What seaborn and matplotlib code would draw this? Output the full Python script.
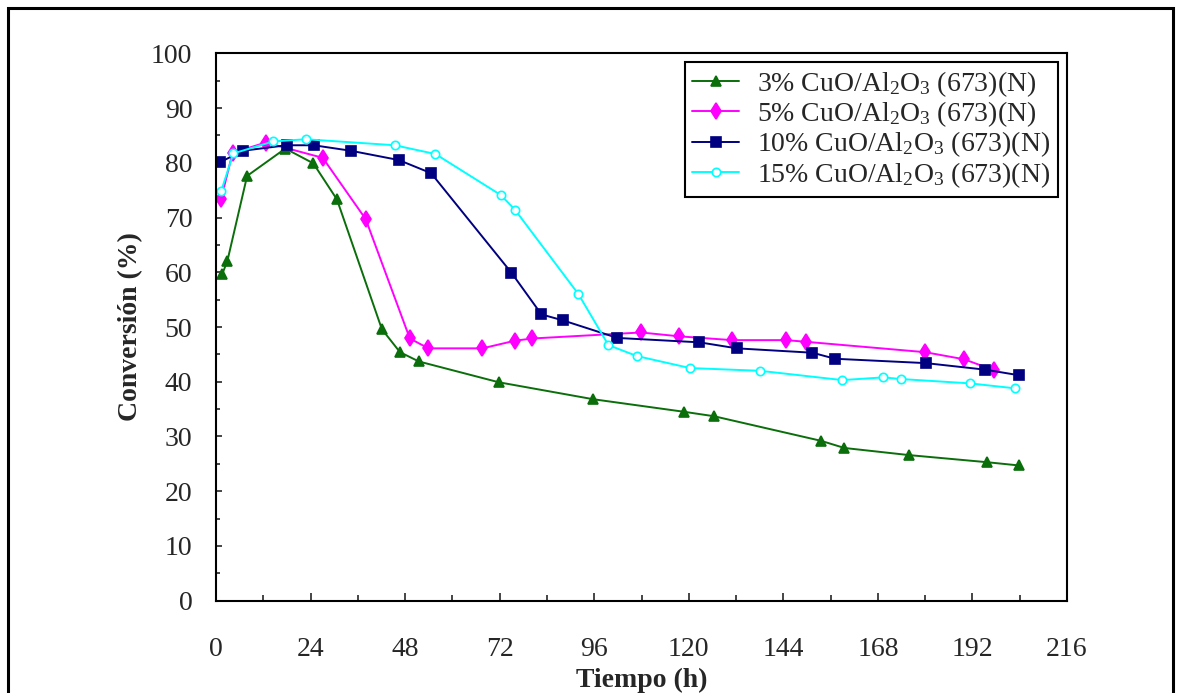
import matplotlib
matplotlib.use("Agg")
import matplotlib.pyplot as plt
from matplotlib.patches import Rectangle
from matplotlib.ticker import MultipleLocator
import seaborn as sns
import pandas as pd

# ---- data ----
t_3 = [1.6, 2.9, 7.9, 17.6, 24.7, 30.7, 42.1, 46.7, 51.5, 71.8, 95.8, 118.9, 126.4, 153.6, 159.5, 175.9, 195.7, 203.9]
c_3 = [59.7, 62.1, 77.6, 82.6, 79.9, 73.3, 49.6, 45.4, 43.7, 39.9, 36.8, 34.5, 33.7, 29.2, 27.9, 26.6, 25.3, 24.7]

t_5 = [1.3, 4.2, 12.6, 27.1, 38.0, 49.2, 53.9, 67.6, 75.9, 80.3, 107.9, 117.5, 131.0, 144.8, 149.7, 180.0, 189.9, 197.5]
c_5 = [73.4, 81.8, 83.7, 80.9, 69.7, 47.9, 46.1, 46.1, 47.5, 47.9, 49.0, 48.3, 47.6, 47.6, 47.3, 45.4, 44.1, 42.1]

t_10 = [1.0, 6.9, 17.9, 24.8, 34.2, 46.4, 54.6, 75.0, 82.6, 88.1, 101.9, 122.7, 132.2, 151.4, 157.1, 180.2, 195.3, 203.7]
c_10 = [80.1, 82.2, 83.2, 83.2, 82.2, 80.5, 78.1, 59.9, 52.3, 51.2, 48.0, 47.2, 46.1, 45.3, 44.2, 43.4, 42.2, 41.2]

t_15 = [1.3, 4.4, 14.5, 22.8, 45.4, 55.7, 72.3, 75.9, 92.0, 99.6, 106.8, 120.3, 138.1, 159.0, 169.4, 173.8, 191.4, 202.8]
c_15 = [74.8, 81.7, 83.9, 84.3, 83.2, 81.6, 74.1, 71.4, 56.0, 46.7, 44.7, 42.5, 42.0, 40.3, 40.8, 40.5, 39.7, 38.8]

labels = [r"3% CuO/Al$_2$O$_3$ (673)(N)",
          r"5% CuO/Al$_2$O$_3$ (673)(N)",
          r"10% CuO/Al$_2$O$_3$ (673)(N)",
          r"15% CuO/Al$_2$O$_3$ (673)(N)"]
x_ticks = [0, 24, 48, 72, 96, 120, 144, 168, 192, 216]
y_ticks = [0, 10, 20, 30, 40, 50, 60, 70, 80, 90, 100]

# ---- style ----
sns.set_style("white")
plt.rcParams["font.family"] = ["Liberation Serif", "DejaVu Serif"]
plt.rcParams["mathtext.fontset"] = "custom"
plt.rcParams["mathtext.rm"] = "Liberation Serif"
plt.rcParams["mathtext.default"] = "regular"

fig = plt.figure(figsize=(11.8, 6.93), dpi=100)
ax = fig.add_axes([216 / 1180, 1 - 600.7 / 693, (1067 - 216) / 1180, (600.7 - 53.3) / 693])

series = [
    (t_3, c_3, labels[0], "#0a6e0a", "^", 7.5, "#0a6e0a"),
    (t_5, c_5, labels[1], "#ff00ff", "d", 8, "#ff00ff"),
    (t_10, c_10, labels[2], "#000080", "s", 6.5, "#000080"),
    (t_15, c_15, labels[3], "#00ffff", "o", 6, "white"),
]
for t, c, lab, col, mk, ms, fc in series:
    df = pd.DataFrame({"t": t, "c": c})
    sns.lineplot(data=df, x="t", y="c", ax=ax, color=col, marker=mk,
                 markersize=ms, markerfacecolor=fc, markeredgecolor=col,
                 markeredgewidth=1.2, linewidth=1.4, label=lab, sort=False)

ax.set_xlim(0, 216)
ax.set_ylim(0, 100)
ax.set_xticks(x_ticks)
ax.set_yticks(y_ticks)
ax.xaxis.set_minor_locator(MultipleLocator(12))
ax.yaxis.set_minor_locator(MultipleLocator(5))
ax.tick_params(axis="x", which="major", direction="in", length=6, width=1.2, pad=26, labelsize=20)
ax.tick_params(axis="x", which="minor", direction="in", length=4.5, width=1.2)
ax.tick_params(axis="y", which="major", direction="in", length=4.5, width=1.2, pad=17, labelsize=20)
ax.tick_params(axis="y", which="minor", direction="in", length=3, width=1.2)
ax.tick_params(which="both", bottom=True, left=True, top=False, right=False)
for s in ax.spines.values():
    s.set_color("black")
    s.set_linewidth(1.5)

ax.set_xlabel("Tiempo (h)", fontsize=20, fontweight="bold", va="center")
ax.set_ylabel("Conversión (%)", fontsize=20, fontweight="bold")
ax.xaxis.set_label_coords(0.5, -0.145)
ax.yaxis.set_label_coords(-0.086, 0.5)

leg = ax.legend(loc="upper right", bbox_to_anchor=(0.989, 0.984), borderaxespad=0,
                fontsize=20, frameon=True, fancybox=False, framealpha=1,
                edgecolor="black", handlelength=1.7, handletextpad=0.65,
                labelspacing=0.02, borderpad=0.25)
leg.get_frame().set_linewidth(1.5)

# outer border of the figure
fig.patches.append(Rectangle((7.5 / 1180, -0.05), (1172.5 - 7.5) / 1180, 1.05 - 8.5 / 693,
                             transform=fig.transFigure, fill=False,
                             edgecolor="black", linewidth=2.2, zorder=10))

fig.savefig("out.png", dpi=100)
